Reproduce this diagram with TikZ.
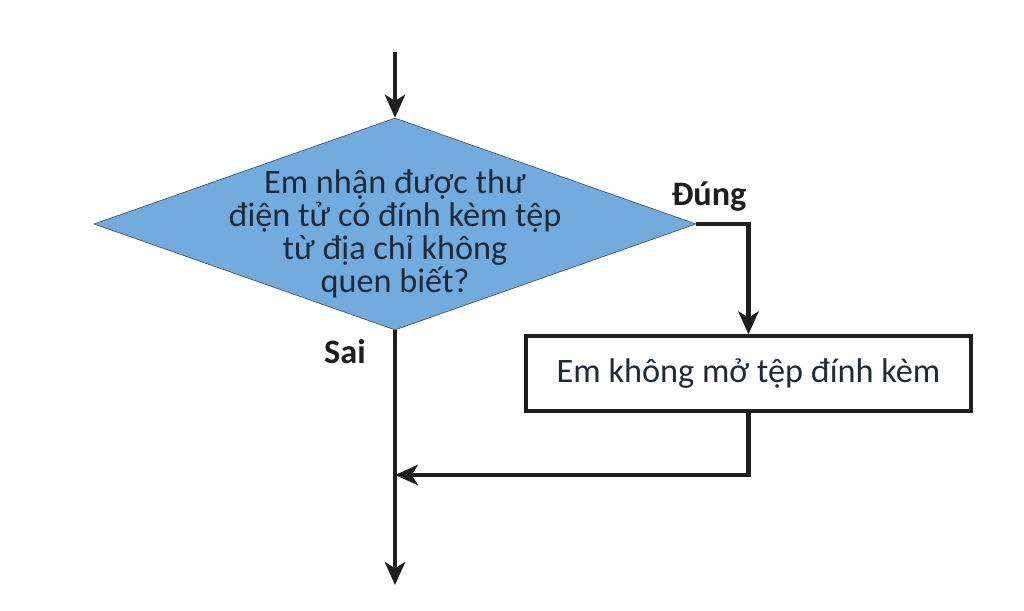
\documentclass[tikz,border=0pt]{standalone}
\usepackage{fontspec}
\setmainfont{Carlito}
\usetikzlibrary{shapes.geometric,arrows.meta}

\definecolor{diamondblue}{RGB}{114,172,222}
\definecolor{textnavy}{RGB}{30,42,58}
\definecolor{linegray}{RGB}{30,30,30}

\begin{document}
\begin{tikzpicture}[
	flow/.style = {line width = 2.6pt, draw = linegray, -{Stealth[length = 13pt, width = 11.5pt, inset = 3.5pt]}},
	plain/.style = {line width = 2.6pt, draw = linegray}
	]
		\tikzstyle{every node} = [font = \fontsize{19.5}{18.7}\selectfont]
		\useasboundingbox (0,0) rectangle (20.48,12.22);

		\coordinate (start) at (7.9,11.18);
		\node [diamond, draw = textnavy!80, thin, fill = diamondblue, aspect = 2.84,
			minimum width = 12.04cm, minimum height = 4.24cm, inner sep = 0pt] (ask) at (7.9,7.74) {};
		\node [align = center, text = textnavy] (asktext) at ([yshift = -.2cm]ask.center) {Em nhận được thư\\điện tử có đính kèm tệp\\từ địa chỉ không\\quen biết?};
		\node [draw = linegray, line width = 1.9pt, text = textnavy,
			minimum width = 8.9cm, minimum height = 1.5cm] (noopen) at (14.97,4.75) {Em không mở tệp đính kèm};
		\coordinate (join) at (7.9,2.72);
		\coordinate (finish) at (7.9,0.52);

		\draw [flow] (start) -- (ask.north); %entry
		\draw [flow] (ask.east) -| (noopen.north); %yes branch
		\draw [plain] (ask.south) -- (join); %no branch
		\draw [flow] (noopen.south) |- (join);
		\draw [flow] (join) -- (finish); %exit

		\node [font = \fontsize{19.5}{18.7}\selectfont\bfseries, text = linegray] (yes) at (14.18,8.28) {Đúng};
		\node [font = \fontsize{19.5}{18.7}\selectfont\bfseries, text = linegray] (no) at (6.9,5.18) {Sai};
	\end{tikzpicture}
\end{document}
